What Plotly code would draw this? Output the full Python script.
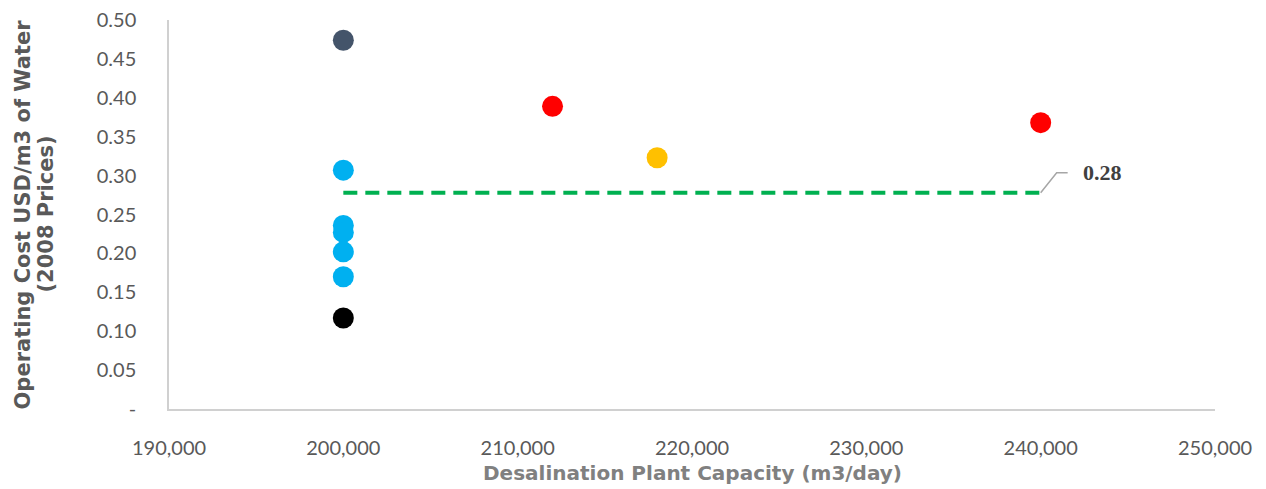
import plotly.graph_objects as go

# Plant capacity (m3/day) and operating cost (USD/m3, 2008 prices), grouped by colour
slate_x = [200000]
slate_y = [0.474]
blue_x = [200000, 200000, 200000, 200000, 200000]
blue_y = [0.307, 0.236, 0.227, 0.202, 0.170]
black_x = [200000]
black_y = [0.117]
red_x = [212000, 240000]
red_y = [0.389, 0.368]
amber_x = [218000]
amber_y = [0.323]

# Reference line
ref_x = [200000, 240000]
ref_value = 0.278

x_ticks = [190000, 200000, 210000, 220000, 230000, 240000, 250000]
y_ticks = [0, 0.05, 0.10, 0.15, 0.20, 0.25, 0.30, 0.35, 0.40, 0.45, 0.50]
y_tick_text = ["-" if v == 0 else f"{v:.2f}" for v in y_ticks]

y_title_lines = ["Operating Cost USD/m3 of Water", "(2008 Prices)"]
x_title = "Desalination Plant Capacity (m3/day)"

TICK_FONT = dict(family="Lato", size=20, color="#595959")
MARKER_SIZE = 21

fig = go.Figure()


def add_points(xs, ys, color):
    fig.add_trace(go.Scatter(
        x=xs, y=ys, mode="markers",
        marker=dict(size=MARKER_SIZE, color=color, line=dict(width=0)),
        showlegend=False, hoverinfo="x+y",
    ))


fig.add_trace(go.Scatter(
    x=ref_x, y=[ref_value] * len(ref_x), mode="lines",
    line=dict(color="#00B050", width=4, dash="14px,8px"),
    showlegend=False, hoverinfo="skip",
))

add_points(slate_x, slate_y, "#44546A")
add_points(blue_x, blue_y, "#00B0F0")
add_points(black_x, black_y, "#000000")
add_points(red_x, red_y, "#FF0000")
add_points(amber_x, amber_y, "#FFC000")

# Leader line from the end of the reference line to its value label
fig.add_shape(
    type="path", xref="x", yref="y",
    xsizemode="pixel", ysizemode="pixel",
    xanchor=ref_x[-1], yanchor=ref_value,
    path="M 0 0 L 16 20 L 27 20",
    line=dict(color="#A6A6A6", width=1.5),
)

fig.add_annotation(
    x=ref_x[-1], y=ref_value, text=f"<b>{ref_value:.2f}</b>",
    showarrow=False, xanchor="left", yanchor="middle",
    xshift=40, yshift=20,
    font=dict(family="Liberation Serif", size=22, color="#404040"),
)

# Two-line vertical axis title, tighter line spacing than a <br> title
for shift, line in zip([-147, -124], y_title_lines):
    fig.add_annotation(
        xref="paper", yref="paper", x=0, y=0.5, xshift=shift,
        text=f"<b>{line}</b>", textangle=-90, showarrow=False,
        xanchor="center", yanchor="middle",
        font=dict(family="DejaVu Sans", size=21, color="#595959"),
    )

fig.add_annotation(
    xref="paper", yref="paper", x=0.5, y=0, yshift=-64,
    text=f"<b>{x_title}</b>", showarrow=False,
    xanchor="center", yanchor="middle",
    font=dict(family="DejaVu Sans", size=20, color="#808080"),
)

fig.update_layout(
    width=1266, height=489,
    margin=dict(l=169, r=51, t=20, b=80, autoexpand=False),
    paper_bgcolor="white", plot_bgcolor="white",
    xaxis=dict(
        range=[190000, 250000], tickvals=x_ticks,
        ticktext=[f"{v:,}" for v in x_ticks],
        showgrid=False, zeroline=False, automargin=False,
        showline=True, linecolor="#D0D0D0", linewidth=1.5,
        ticks="", tickfont=TICK_FONT, ticklabelstandoff=20,
    ),
    yaxis=dict(
        range=[0, 0.5], tickvals=y_ticks, ticktext=y_tick_text,
        showgrid=False, zeroline=False, automargin=False,
        showline=True, linecolor="#D0D0D0", linewidth=1.5,
        ticks="", tickfont=TICK_FONT, ticklabelstandoff=27,
    ),
)

fig.write_html("out.html")
